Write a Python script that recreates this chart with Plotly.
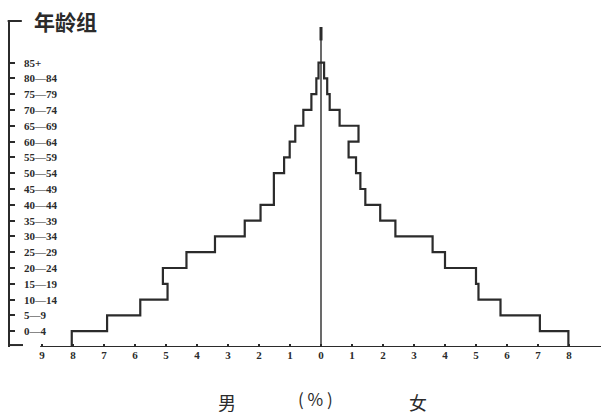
import plotly.graph_objects as go

# age groups, bottom to top
AGE_GROUPS = ["0—4", "5—9", "10—14", "15—19", "20—24", "25—29", "30—34", "35—39",
              "40—44", "45—49", "50—54", "55—59", "60—64", "65—69", "70—74",
              "75—79", "80—84", "85+"]

# share of population (%) per group
MALE = [8.04, 6.9, 5.83, 4.95, 5.1, 4.34, 3.42, 2.46, 1.95, 1.52, 1.52,
        1.19, 1.01, 0.83, 0.57, 0.31, 0.15, 0.08]
FEMALE = [7.98, 7.06, 5.79, 5.08, 5.0, 4.0, 3.6, 2.4, 1.91, 1.43, 1.27,
          1.13, 0.89, 1.21, 0.6, 0.28, 0.2, 0.1]

X_TICKS = list(range(-9, 10))
X_TICKTEXT = [str(abs(v)) for v in X_TICKS]

INK = "#2b2b2b"
LABEL_FONT = "Liberation Serif"
CJK_FONT = "Noto Sans CJK SC"

# step outline: left side bottom->top, then right side top->bottom
xs, ys = [], []
for i, v in enumerate(MALE):
    xs += [-v, -v]
    ys += [i, i + 1]
for i in reversed(range(len(FEMALE))):
    xs += [FEMALE[i], FEMALE[i]]
    ys += [i + 1, i]

fig = go.Figure()
fig.add_trace(go.Scatter(x=xs, y=ys, mode="lines",
                         line=dict(color=INK, width=2.2),
                         hoverinfo="skip", showlegend=False))

top = len(AGE_GROUPS)

# age labels sit just right of the y axis, level with each bar's top edge
for i, lab in enumerate(AGE_GROUPS):
    fig.add_annotation(text=lab, xref="paper", yref="y", x=0.02, y=i + 1,
                       xanchor="left", yanchor="middle", showarrow=False,
                       font=dict(family=LABEL_FONT, size=11, color=INK, weight="bold"))

# centre line, x-axis line and y bracket
fig.add_shape(type="line", x0=0, x1=0, y0=0, y1=20.25,
              line=dict(color=INK, width=1.4))
fig.add_shape(type="line", x0=0, x1=0, y0=19.4, y1=20.25,
              line=dict(color=INK, width=3))
fig.add_shape(type="line", x0=-9.06, x1=9.1, y0=0, y1=0,
              line=dict(color=INK, width=2))
fig.add_shape(type="line", xref="paper", yref="paper",
              x0=-0.004, x1=0.02, y0=1, y1=1, line=dict(color=INK, width=2))
fig.add_shape(type="line", xref="paper", yref="paper",
              x0=0, x1=0.022, y0=0.006, y1=0.006, line=dict(color=INK, width=2))

fig.add_annotation(text="年龄组", xref="paper", yref="paper", x=0.037, y=1.0,
                   xanchor="left", yanchor="middle", showarrow=False,
                   font=dict(family=CJK_FONT, size=21, color=INK, weight="bold"))

# bottom captions
for txt, xp, yp, sz in [("男", 227, 402, 18), ("( % )", 315, 398, 17), ("女", 418, 402, 18)]:
    fig.add_annotation(text=txt, xref="paper", yref="paper",
                       x=(xp - 10) / 591, y=(347 - yp) / 326,
                       xanchor="center", yanchor="middle", showarrow=False,
                       font=dict(family=CJK_FONT, size=sz, color=INK))

fig.update_xaxes(range=[-10.032, 9.032], tickvals=X_TICKS, ticktext=X_TICKTEXT,
                 ticks="inside", ticklen=3, tickwidth=1.5, tickcolor=INK,
                 tickfont=dict(family=LABEL_FONT, size=11, color=INK, weight="bold"),
                 showgrid=False, zeroline=False, showline=False)
fig.update_yaxes(range=[0, 20.63], tickvals=list(range(1, top + 1)),
                 showticklabels=False,
                 ticks="inside", ticklen=5, tickwidth=1.5, tickcolor=INK,
                 showgrid=False, zeroline=False, showline=True, linecolor=INK,
                 linewidth=2)

fig.update_layout(width=601, height=415,
                  margin=dict(l=10, r=0, t=21, b=68),
                  plot_bgcolor="white", paper_bgcolor="white")

fig.write_html("out.html", config={"displayModeBar": False},
               post_script="document.body.style.margin='0px';")
